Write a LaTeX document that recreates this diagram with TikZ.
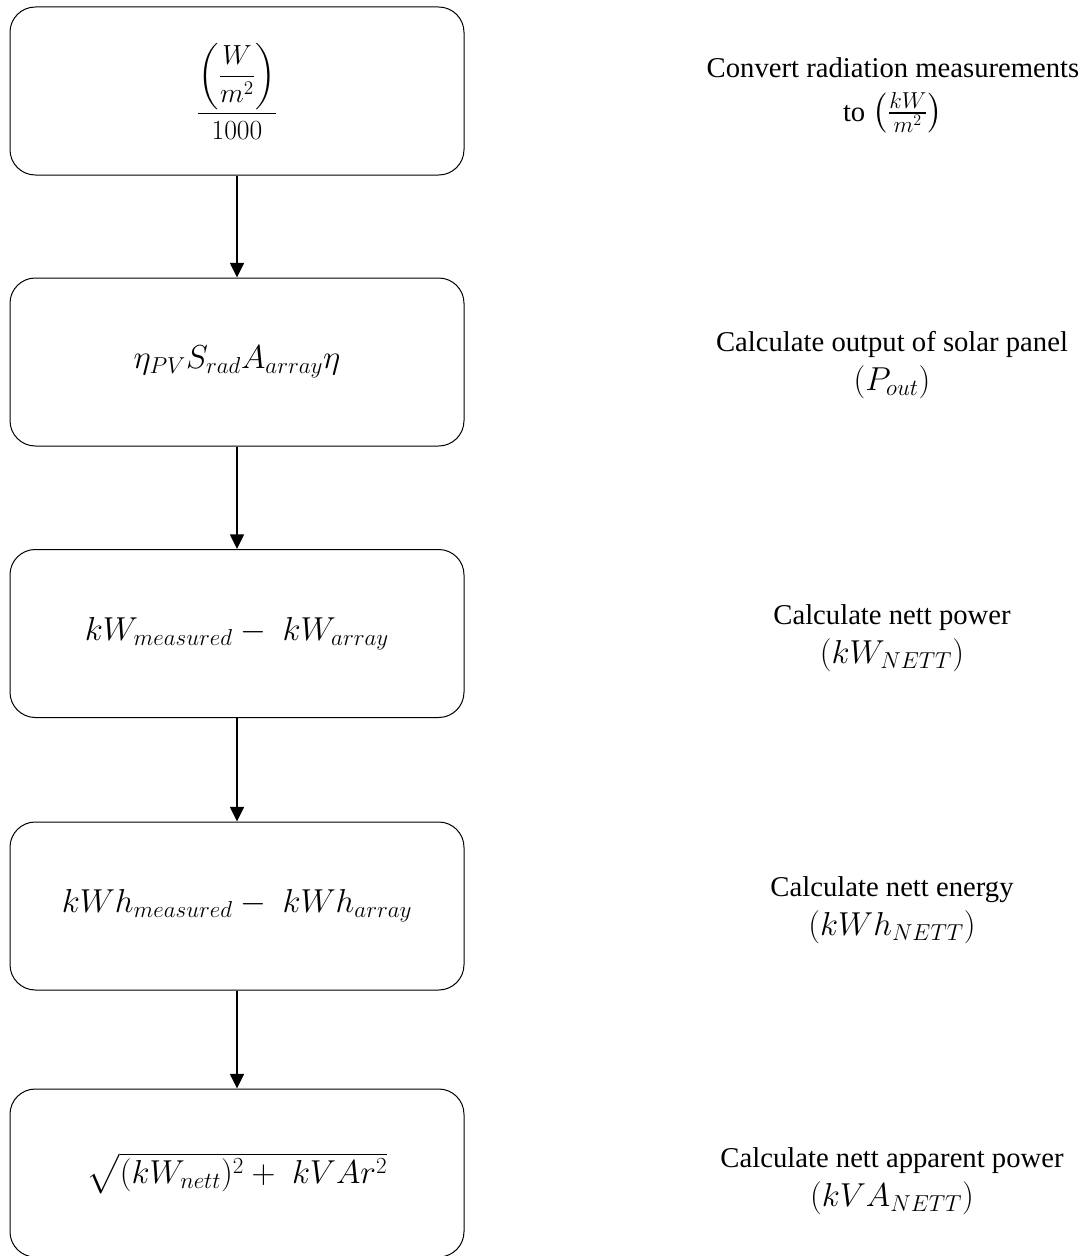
\documentclass[tikz,border=0pt]{standalone}
\usepackage{amsmath}
\usepackage{fontspec}
\setmainfont{Liberation Serif}
\usetikzlibrary{arrows.meta}
\newcommand{\nmath}[1]{{\fontsize{25}{25}\selectfont$#1$}}
\begin{document}
\begin{tikzpicture}[x=0.75pt,y=-0.75pt,
  box/.style={draw, rounded corners=19pt, minimum width=340.5pt, minimum height=126pt, line width=0.75pt, inner sep=0pt, font=\fontsize{24.5}{28}\selectfont},
  note/.style={align=center, font=\fontsize{21.5}{25}\selectfont},
  arr/.style={line width=1.1pt, -{Triangle[width=10.5pt,length=11pt]}}]
\useasboundingbox (0,0) rectangle (1090,1256);
\node[box, font=\fontsize{22}{24}\selectfont] (b1) at (237,91) {$\dfrac{\left(\dfrac{W}{m^2}\right)}{1000}$};
\node[box] (b2) at (237,362) {$\eta_{PV}S_{rad}A_{array}\eta$};
\node[box] (b3) at (237,633.5) {$kW_{measured}-\;kW_{array}$};
\node[box] (b4) at (237,906) {$kWh_{measured}-\;kWh_{array}$};
\node[box] (b5) at (237,1173) {$\sqrt{(kW_{nett})^2+\;kVAr^2}$};
\draw[arr] (b1) -- (b2);
\draw[arr] (b2) -- (b3);
\draw[arr] (b3) -- (b4);
\draw[arr] (b4) -- (b5);
\node[note] (t1) at (893,95) {Convert radiation measurements\\[8pt] to \nmath{\left(\frac{kW}{m^2}\right)}};
\node[note] (t2) at (892,365) {Calculate output of solar panel\\[4pt] \nmath{(P_{out})}};
\node[note] (t3) at (892,638) {Calculate nett power\\[4pt] \nmath{(kW_{NETT})}};
\node[note] (t4) at (892,910) {Calculate nett energy\\[4pt] \nmath{(kWh_{NETT})}};
\node[note] (t5) at (892,1181) {Calculate nett apparent power\\[4pt] \nmath{(kVA_{NETT})}};
\end{tikzpicture}
\end{document}
